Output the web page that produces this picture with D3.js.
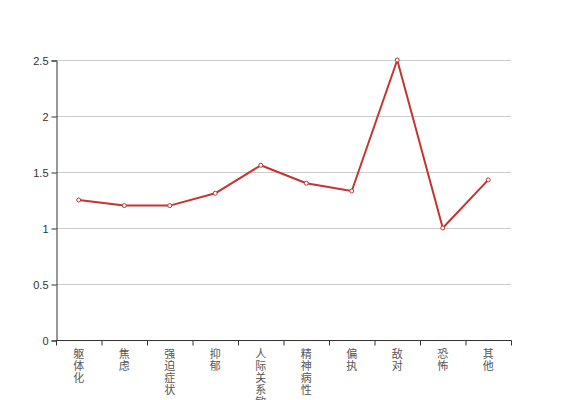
<!DOCTYPE html>
<html><head><meta charset="utf-8">
<script src="https://cdn.jsdelivr.net/npm/d3@7"></script>
<style>body{margin:0;background:#fff}svg{display:block}</style>
</head><body>
<svg id="c" width="567" height="400"></svg>
<script>
const categories = ["躯体化","焦虑","强迫症状","抑郁","人际关系敏感","精神病性","偏执","敌对","恐怖","其他"];
const values = [1.25,1.2,1.2,1.31,1.56,1.40,1.33,2.5,1.0,1.43];
const yTicks = [0,0.5,1,1.5,2,2.5];

(function(){
const svg = d3.select("#c");
const mLeft=56,mRight=511,mTop=60,mBottom=340;
const x = d3.scaleBand().domain(categories).range([mLeft,mRight]);
const y = d3.scaleLinear().domain([0,2.5]).range([mBottom,mTop]);

// grid
svg.append("g").selectAll("line").data(yTicks.filter(d=>d>0)).join("line")
  .attr("x1",mLeft).attr("x2",mRight).attr("y1",d=>y(d)+0.5).attr("y2",d=>y(d)+0.5)
  .attr("stroke","#ccc").attr("stroke-width",1);

// y axis
const ya = svg.append("g").attr("transform",`translate(${mLeft+0.5},0.5)`)
  .call(d3.axisLeft(y).tickValues(yTicks).tickSize(5).tickPadding(3).tickFormat(d=>String(d)));
ya.select(".domain").attr("stroke","#333");
ya.selectAll(".tick line").attr("stroke","#333");
ya.selectAll("text").attr("fill","#333").style("font-family","'Liberation Sans',Arial,sans-serif").style("font-size","11px");

// x axis
const xa = svg.append("g").attr("transform",`translate(0.5,${mBottom+0.5})`);
xa.append("line").attr("x1",mLeft).attr("x2",mRight).attr("stroke","#333");
const bounds = categories.map(c=>x(c)).concat([mRight]);
xa.selectAll("line.t").data(bounds).join("line").attr("class","t")
  .attr("x1",d=>d).attr("x2",d=>d).attr("y1",0).attr("y2",5).attr("stroke","#333");
const lbl = svg.append("g").selectAll("text").data(categories).join("text")
  .attr("x",d=>x(d)+x.bandwidth()/2)
  .attr("y",mBottom+18)
  .attr("text-anchor","middle")
  .attr("fill","#555")
  .style("font-family","'Noto Sans CJK SC',sans-serif").style("font-size","11px");
lbl.each(function(d){
  const t=d3.select(this);
  [...d].forEach((ch,i)=>{
    t.append("tspan").attr("x",x(d)+x.bandwidth()/2).attr("dy",i===0?0:12).text(ch);
  });
});

// line
const line = d3.line().x((d,i)=>x(categories[i])+x.bandwidth()/2).y(d=>y(d));
svg.append("path").datum(values).attr("d",line).attr("fill","none")
  .attr("stroke","#c23531").attr("stroke-width",2).attr("stroke-linejoin","round");
svg.append("g").selectAll("circle").data(values).join("circle")
  .attr("cx",(d,i)=>x(categories[i])+x.bandwidth()/2).attr("cy",d=>y(d)).attr("r",2)
  .attr("fill","#fff").attr("stroke","#c23531").attr("stroke-width",1);
})();
</script>
</body></html>
